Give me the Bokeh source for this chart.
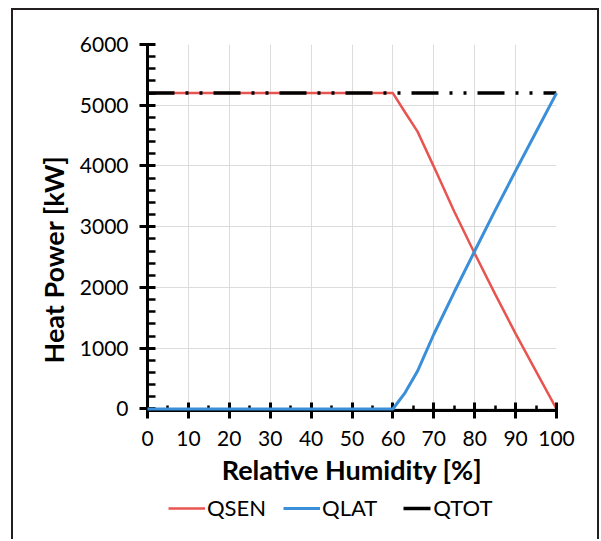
from bokeh.plotting import figure
from bokeh.layouts import column
from bokeh.models import (FixedTicker, Range1d, Legend, LegendItem, Title)
from bokeh.embed import file_html
from bokeh.resources import INLINE

# ---- data ----
rh = [0, 60, 63, 66, 70, 75, 80, 85, 90, 95, 100]
qsen = [5200, 5200, 4880, 4570, 3990, 3250, 2560, 1890, 1240, 620, 0]
qlat = [0, 0, 270, 620, 1230, 1925, 2600, 3270, 3920, 4560, 5200]
qtot = [5200, 5200, 5200, 5200, 5200, 5200, 5200, 5200, 5200, 5200, 5200]

x_ticks = [0, 10, 20, 30, 40, 50, 60, 70, 80, 90, 100]
x_minor = [5, 15, 25, 35, 45, 55, 65, 75, 85, 95]
y_ticks = [0, 1000, 2000, 3000, 4000, 5000, 6000]
y_minor = [v for v in range(200, 6000, 200) if v % 1000 != 0]

series_names = ["QSEN", "QLAT", "QTOT"]

FONT = "Lato"
RED = "#e8544f"
BLUE = "#3a8fd8"
TOT_DASH = "27 11 3 11 3 11"

# ---------------- main chart ----------------
p = figure(width=584, height=482, output_backend="svg", toolbar_location=None,
           x_range=Range1d(0, 100), y_range=Range1d(-25, 6000),
           min_border_left=134, min_border_right=41, min_border_top=34,
           min_border_bottom=82)
p.outline_line_color = None
p.background_fill_color = "white"
p.border_fill_color = "white"

r_sen = p.line(rh, qsen, line_color=RED, line_width=2.5)
r_tot = p.line(rh, qtot, line_color="black", line_width=3.5, line_dash=TOT_DASH)
r_lat = p.line(rh, qlat, line_color=BLUE, line_width=3)
r_lat.level = "overlay"

for ax in (p.xaxis[0], p.yaxis[0]):
    ax.axis_line_width = 3
    ax.axis_line_color = "black"
    ax.major_tick_line_width = 3
    ax.major_tick_line_color = "black"
    ax.minor_tick_line_width = 2.5
    ax.minor_tick_line_color = "black"
    ax.major_tick_in = 8
    ax.major_tick_out = 8
    ax.minor_tick_out = 0
    ax.major_label_text_font = FONT
    ax.major_label_text_font_size = "21px"
    ax.major_label_text_color = "black"

p.xaxis[0].ticker = FixedTicker(ticks=x_ticks, minor_ticks=x_minor)
p.yaxis[0].ticker = FixedTicker(ticks=y_ticks, minor_ticks=y_minor)
p.xaxis[0].minor_tick_in = 5
p.yaxis[0].minor_tick_in = 8
p.xaxis[0].major_label_standoff = 12
p.yaxis[0].major_label_standoff = 11

p.xaxis[0].axis_label = "Relative Humidity [%]"
p.xaxis[0].axis_label_text_font = FONT
p.xaxis[0].axis_label_text_font_size = "27px"
p.xaxis[0].axis_label_text_font_style = "bold"
p.xaxis[0].axis_label_text_color = "black"
p.xaxis[0].axis_label_standoff = 4

p.xgrid.ticker = FixedTicker(ticks=x_ticks)
p.ygrid.ticker = FixedTicker(ticks=y_ticks)
p.xgrid.grid_line_color = "#dcdcdc"
p.ygrid.grid_line_color = "#dcdcdc"
p.xgrid.grid_line_width = 1
p.ygrid.grid_line_width = 1

ytitle = Title(text="Heat Power [kW]", align="left", offset=47, standoff=14,
               text_font=FONT, text_font_size="27px",
               text_font_style="bold", text_color="black")
p.add_layout(ytitle, "left")

# ---------------- legend strip ----------------
q = figure(width=584, height=47, output_backend="svg", toolbar_location=None,
           x_range=Range1d(-2, -1), y_range=Range1d(0, 1),
           x_axis_type=None, y_axis_type=None,
           min_border_left=0, min_border_right=0, min_border_top=0,
           min_border_bottom=0)
q.outline_line_color = None
q.background_fill_color = "white"
q.border_fill_color = "white"

# same series, outside this strip's visible range: only their legend glyphs show
l_sen = q.line(rh, qsen, line_color=RED, line_width=2.5)
l_lat = q.line(rh, qlat, line_color=BLUE, line_width=3)
l_tot = q.line(rh, qtot, line_color="black", line_width=3.5, line_dash=TOT_DASH,
               line_dash_offset=57)

legend = Legend(items=[LegendItem(label=series_names[0], renderers=[l_sen]),
                       LegendItem(label=series_names[1], renderers=[l_lat]),
                       LegendItem(label=series_names[2], renderers=[l_tot])],
                orientation="horizontal", location=(21, 18),
                glyph_width=37, glyph_height=20, label_standoff=2, spacing=17,
                padding=0, margin=0, border_line_color=None,
                background_fill_alpha=0,
                label_text_font=FONT, label_text_font_size="22px",
                label_text_color="black")
q.add_layout(legend)

layout = column(p, q, spacing=0,
                styles={"margin-left": "11px", "margin-top": "8px",
                        "border-left": "2px solid #231f20",
                        "border-top": "2px solid #231f20",
                        "border-right": "2px solid #231f20"})

open("out.html", "w").write(file_html(layout, INLINE))
